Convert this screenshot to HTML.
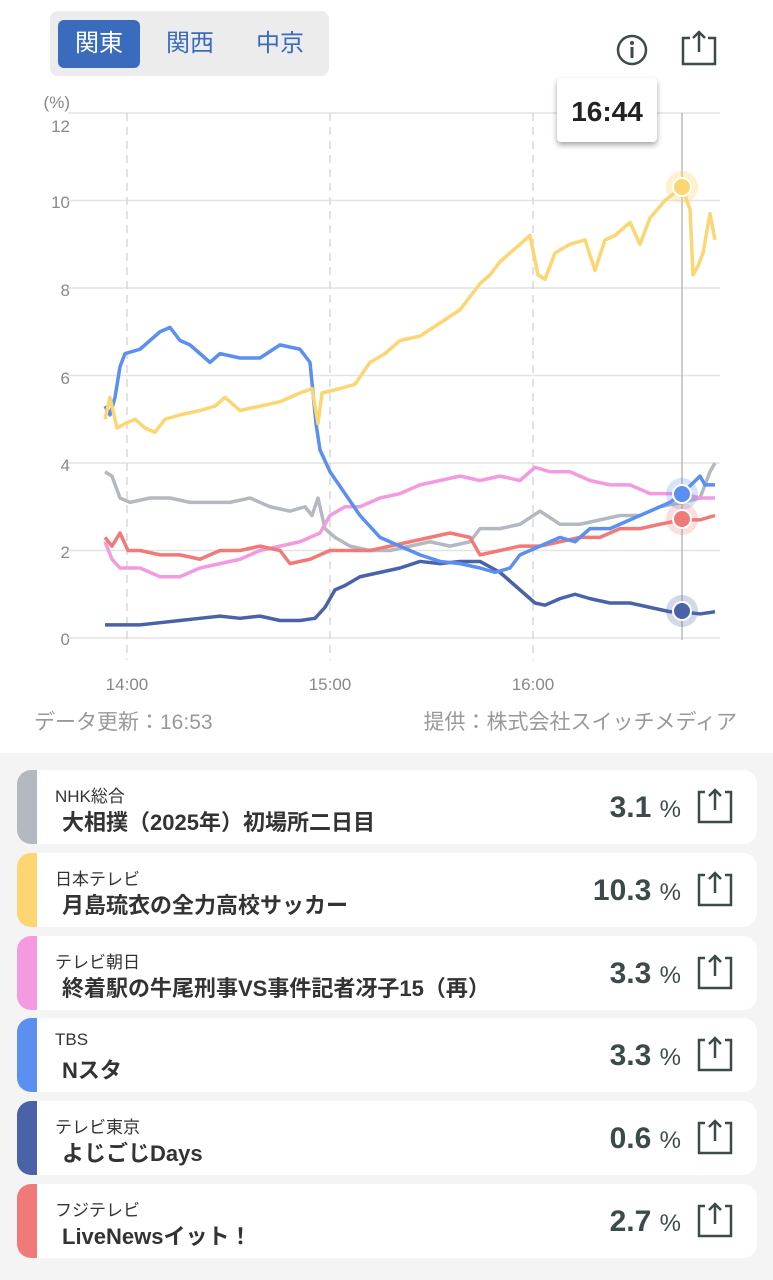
<!DOCTYPE html>
<html><head><meta charset="utf-8"><style>
body{margin:0;width:773px;height:1280px;background:#fff;font-family:"Liberation Sans","Noto Sans CJK JP",sans-serif;position:relative;overflow:hidden}
.seg{position:absolute;left:50px;top:11px;width:279px;height:65px;background:#ececed;border-radius:8px}
.seg div{position:absolute;top:9px;height:48px;line-height:48px;font-size:24px;color:#3a6bbd;text-align:center;width:82px}
.seg .on{background:#3a6bbd;color:#fff;border-radius:6px;left:8px}
.bottom{position:absolute;left:0;top:753px;width:773px;height:527px;background:#f4f4f4}
.card{position:absolute;left:17px;width:740px;height:74px;background:#fff;border-radius:14px;overflow:hidden}
.card .bar{position:absolute;left:0;top:0;width:20px;height:74px}
.card .ch{position:absolute;left:38px;top:12px;font-size:17px;color:#333}
.card .ti{position:absolute;left:45px;top:35px;font-size:22px;font-weight:bold;color:#333}
.card .pc{position:absolute;right:76px;top:21px;font-size:30px;font-weight:bold;color:#3d4a4a}
.card .pc span{font-size:24px;font-weight:normal}
.card svg{position:absolute;left:680px;top:18px}
</style></head><body>
<div class="seg"><div class="on">関東</div><div style="left:99px">関西</div><div style="left:189px">中京</div></div>
<svg width="773" height="750" style="position:absolute;left:0;top:0">
<circle cx="632" cy="50" r="14" fill="none" stroke="#3d4a4a" stroke-width="2.5"/>
<circle cx="632" cy="43" r="2" fill="#3d4a4a"/><rect x="630.5" y="47" width="3" height="11" fill="#3d4a4a"/>
<path d="M690 38h-7v26h32v-26h-7 M699 52v-20 M693 38l6-6 6 6" fill="none" stroke="#3d4a4a" stroke-width="2.5"/>
<g font-size="17" fill="#888" text-anchor="end">
<text x="70" y="108">(%)</text>
<text x="70" y="132">12</text><text x="70" y="208">10</text><text x="70" y="296">8</text><text x="70" y="384">6</text><text x="70" y="471">4</text><text x="70" y="558">2</text><text x="70" y="645">0</text></g>
<g stroke="#e4e4e4" stroke-width="1.5">
<line x1="68" x2="720" y1="113" y2="113"/><line x1="68" x2="720" y1="200.5" y2="200.5"/><line x1="68" x2="720" y1="288" y2="288"/><line x1="68" x2="720" y1="375.5" y2="375.5"/><line x1="68" x2="720" y1="463" y2="463"/><line x1="68" x2="720" y1="550.5" y2="550.5"/><line x1="68" x2="720" y1="638" y2="638"/></g>
<g stroke="#d8d8d8" stroke-width="1.5" stroke-dasharray="8,6">
<line x1="127" x2="127" y1="113" y2="660"/><line x1="330" x2="330" y1="113" y2="660"/><line x1="533" x2="533" y1="113" y2="660"/></g>
<line x1="682" x2="682" y1="113" y2="640" stroke="#bbb" stroke-width="1.5"/>
<g font-size="17" fill="#888" text-anchor="middle"><text x="127" y="690">14:00</text><text x="330" y="690">15:00</text><text x="533" y="690">16:00</text></g>
<g font-size="21" fill="#999"><text x="34" y="729">データ更新：16:53</text><text x="737" y="729" text-anchor="end">提供：株式会社スイッチメディア</text></g>
<g transform="translate(0,638) scale(1,-43.75)" fill="none" stroke-width="3.5" stroke-linejoin="round">
<polyline vector-effect="non-scaling-stroke" stroke="#b4b9c1" points="105,3.8 112,3.7 120,3.2 130,3.1 150,3.2 170,3.2 190,3.1 210,3.1 230,3.1 250,3.2 270,3 290,2.9 305,3 312,2.8 318,3.2 325,2.5 335,2.3 350,2.1 370,2 390,2 410,2.1 430,2.2 450,2.1 470,2.2 480,2.5 500,2.5 520,2.6 540,2.9 560,2.6 580,2.6 600,2.7 620,2.8 640,2.8 660,3 682,3.1 700,3.2 710,3.8 715,4"/>
<polyline vector-effect="non-scaling-stroke" stroke="#f49ae0" points="105,2.2 112,1.8 120,1.6 140,1.6 160,1.4 180,1.4 200,1.6 220,1.7 240,1.8 260,2 280,2.1 300,2.2 320,2.4 330,2.8 345,3 360,3 380,3.2 400,3.3 420,3.5 440,3.6 460,3.7 480,3.6 500,3.7 520,3.6 535,3.9 550,3.8 570,3.8 590,3.6 610,3.5 630,3.5 650,3.3 682,3.3 700,3.2 715,3.2"/>
<polyline vector-effect="non-scaling-stroke" stroke="#f07a78" points="105,2.3 112,2.1 120,2.4 128,2 140,2 160,1.9 180,1.9 200,1.8 220,2 240,2 260,2.1 280,2 290,1.7 310,1.8 330,2 350,2 370,2 390,2.1 410,2.2 430,2.3 450,2.4 470,2.3 480,1.9 500,2 520,2.1 540,2.1 560,2.2 580,2.3 600,2.3 620,2.5 640,2.5 660,2.6 682,2.7 700,2.7 715,2.8"/>
<polyline vector-effect="non-scaling-stroke" stroke="#4a62a8" points="105,0.3 120,0.3 140,0.3 160,0.35 180,0.4 200,0.45 220,0.5 240,0.45 260,0.5 280,0.4 300,0.4 315,0.45 325,0.7 335,1.1 345,1.2 360,1.4 380,1.5 400,1.6 420,1.75 440,1.7 460,1.75 480,1.75 500,1.5 520,1.1 535,0.8 545,0.75 560,0.9 575,1 590,0.9 610,0.8 630,0.8 650,0.7 670,0.6 682,0.6 700,0.55 715,0.6"/>
<polyline vector-effect="non-scaling-stroke" stroke="#5b8ff0" points="105,5.3 110,5.1 115,5.5 120,6.2 125,6.5 140,6.6 150,6.8 160,7 170,7.1 180,6.8 190,6.7 200,6.5 210,6.3 220,6.5 240,6.4 260,6.4 280,6.7 300,6.6 310,6.3 316,4.9 320,4.3 330,3.8 345,3.3 360,2.8 380,2.3 400,2.1 420,1.9 440,1.75 460,1.7 480,1.6 495,1.5 510,1.6 520,1.9 540,2.1 560,2.3 575,2.2 590,2.5 610,2.5 630,2.7 650,2.9 670,3.1 682,3.3 700,3.7 705,3.5 715,3.5"/>
<polyline vector-effect="non-scaling-stroke" stroke="#fcd673" points="105,5 110,5.5 117,4.8 125,4.9 135,5 145,4.8 155,4.7 165,5 180,5.1 200,5.2 215,5.3 225,5.5 240,5.2 260,5.3 280,5.4 300,5.6 312,5.7 318,4.9 322,5.6 340,5.7 355,5.8 370,6.3 385,6.5 400,6.8 420,6.9 440,7.2 460,7.5 470,7.8 480,8.1 490,8.3 500,8.6 515,8.9 530,9.2 538,8.3 545,8.2 555,8.8 570,9 585,9.1 595,8.4 605,9.1 615,9.2 630,9.5 640,9 650,9.6 665,10 682,10.3 690,9.8 693,8.3 698,8.5 703,8.8 710,9.7 715,9.1"/>
</g>
<circle cx="682" cy="187" r="16" fill="#fcd673" opacity=".35"/><circle cx="682" cy="187" r="9" fill="#fcd673" stroke="#fff" stroke-width="2"/>
<circle cx="682" cy="494" r="16" fill="#5b8ff0" opacity=".25"/><circle cx="682" cy="519" r="16" fill="#f07a78" opacity=".25"/>
<circle cx="682" cy="519" r="9" fill="#f07a78" stroke="#fff" stroke-width="2"/>
<circle cx="682" cy="494" r="9" fill="#5b8ff0" stroke="#fff" stroke-width="2"/>
<circle cx="682" cy="611" r="16" fill="#4a62a8" opacity=".25"/><circle cx="682" cy="611" r="9" fill="#4a62a8" stroke="#fff" stroke-width="2"/>
<rect x="557" y="78" width="100" height="64" rx="4" fill="#fff" style="filter:drop-shadow(0 3px 3px rgba(0,0,0,.35))"/>
<text x="607" y="121" font-size="28" font-weight="bold" fill="#222" text-anchor="middle">16:44</text>
</svg>
<div class="bottom"></div>
<div class="card" style="top:770px"><div class="bar" style="background:#b4b9c1"></div><div class="ch">NHK総合</div><div class="ti">大相撲（2025年）初場所二日目</div><div class="pc">3.1 <span>%</span></div><svg width="36" height="36"><path d="M8 4h-6v30h32v-30h-6 M18 22v-20 M12 8l6-6 6 6" fill="none" stroke="#3d4a4a" stroke-width="2.5"/></svg></div>
<div class="card" style="top:853px"><div class="bar" style="background:#fcd673"></div><div class="ch">日本テレビ</div><div class="ti">月島琉衣の全力高校サッカー</div><div class="pc">10.3 <span>%</span></div><svg width="36" height="36"><path d="M8 4h-6v30h32v-30h-6 M18 22v-20 M12 8l6-6 6 6" fill="none" stroke="#3d4a4a" stroke-width="2.5"/></svg></div>
<div class="card" style="top:936px"><div class="bar" style="background:#f49ae0"></div><div class="ch">テレビ朝日</div><div class="ti">終着駅の牛尾刑事VS事件記者冴子15（再）</div><div class="pc">3.3 <span>%</span></div><svg width="36" height="36"><path d="M8 4h-6v30h32v-30h-6 M18 22v-20 M12 8l6-6 6 6" fill="none" stroke="#3d4a4a" stroke-width="2.5"/></svg></div>
<div class="card" style="top:1018px"><div class="bar" style="background:#5b8ff0"></div><div class="ch">TBS</div><div class="ti">Nスタ</div><div class="pc">3.3 <span>%</span></div><svg width="36" height="36"><path d="M8 4h-6v30h32v-30h-6 M18 22v-20 M12 8l6-6 6 6" fill="none" stroke="#3d4a4a" stroke-width="2.5"/></svg></div>
<div class="card" style="top:1101px"><div class="bar" style="background:#4a62a8"></div><div class="ch">テレビ東京</div><div class="ti">よじごじDays</div><div class="pc">0.6 <span>%</span></div><svg width="36" height="36"><path d="M8 4h-6v30h32v-30h-6 M18 22v-20 M12 8l6-6 6 6" fill="none" stroke="#3d4a4a" stroke-width="2.5"/></svg></div>
<div class="card" style="top:1184px"><div class="bar" style="background:#f07a78"></div><div class="ch">フジテレビ</div><div class="ti">LiveNewsイット！</div><div class="pc">2.7 <span>%</span></div><svg width="36" height="36"><path d="M8 4h-6v30h32v-30h-6 M18 22v-20 M12 8l6-6 6 6" fill="none" stroke="#3d4a4a" stroke-width="2.5"/></svg></div>
</body></html>
